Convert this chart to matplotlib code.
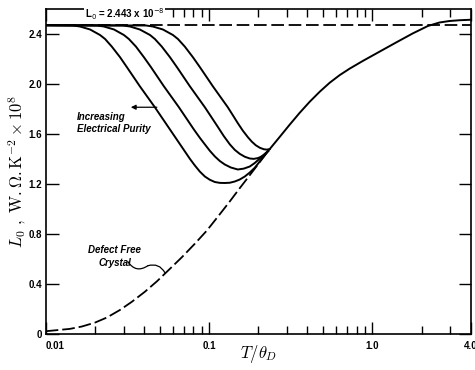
import numpy as np
import matplotlib
matplotlib.use('Agg')
import matplotlib.pyplot as plt
from matplotlib.ticker import LogLocator, NullFormatter

# values (x = T/theta_D, y = L0 x 1e8)
L0_level = 2.47

main_x = [0.0100, 0.01408, 0.01667, 0.02002, 0.02371, 0.02847, 0.03372, 0.04049, 0.04794,
          0.05757, 0.06818, 0.08186, 0.09694, 0.1164, 0.1341, 0.1543, 0.1728, 0.1906, 0.2298,
          0.2710, 0.3120, 0.3593, 0.4135, 0.4761, 0.5480, 0.6310, 0.7264, 0.8760,
          1.108, 1.402, 1.764, 2.188, 2.580, 2.971, 3.419, 4.0]
main_y = [0.022, 0.041, 0.060, 0.091, 0.132, 0.192, 0.258, 0.338, 0.421,
          0.521, 0.614, 0.722, 0.827, 0.958, 1.061, 1.167, 1.250, 1.323, 1.463,
          1.577, 1.675, 1.770, 1.858, 1.938, 2.010, 2.071, 2.123, 2.185,
          2.259, 2.333, 2.404, 2.464, 2.492, 2.504, 2.510, 2.514]
n_dashed = 19  # defect free part drawn dashed up to x ~ 0.23

c1_x = [0.010, 0.0147, 0.0162, 0.0187, 0.0215, 0.0231, 0.0254, 0.0285, 0.0314, 0.0377, 0.0466,
        0.0576, 0.0711, 0.0763, 0.0819, 0.0879, 0.0943, 0.1011, 0.1085, 0.1164, 0.1249,
        0.1341, 0.1438, 0.1543, 0.1656, 0.1777, 0.1906, 0.2298]
c1_y = [2.47, 2.468, 2.460, 2.436, 2.392, 2.360, 2.299, 2.215, 2.135, 1.982, 1.814,
        1.637, 1.461, 1.402, 1.348, 1.299, 1.260, 1.234, 1.216, 1.209, 1.208,
        1.210, 1.220, 1.236, 1.260, 1.292, 1.330, 1.463]

c2_x = [0.010, 0.0206, 0.0227, 0.0262, 0.0301, 0.0323, 0.0357, 0.0399, 0.0441, 0.0529,
        0.0654, 0.0807, 0.0879, 0.0943, 0.1011, 0.1085, 0.1164, 0.1249, 0.1360, 0.1500,
        0.1632, 0.1777, 0.1906, 0.2046, 0.2298]
c2_y = [2.47, 2.468, 2.460, 2.436, 2.392, 2.360, 2.299, 2.215, 2.135, 1.982,
        1.814, 1.637, 1.569, 1.517, 1.466, 1.421, 1.384, 1.356, 1.332, 1.316,
        1.323, 1.340, 1.368, 1.404, 1.463]

c3_x = [0.010, 0.0297, 0.0328, 0.0377, 0.0435, 0.0466, 0.0514, 0.0576, 0.0636, 0.0763,
        0.0943, 0.1040, 0.1132, 0.1232, 0.1341, 0.1438, 0.1543, 0.1656, 0.1777, 0.1879,
        0.1989, 0.2074, 0.2164, 0.2298]
c3_y = [2.47, 2.468, 2.460, 2.436, 2.392, 2.360, 2.299, 2.215, 2.135, 1.982,
        1.814, 1.730, 1.657, 1.583, 1.517, 1.473, 1.441, 1.418, 1.404, 1.401,
        1.407, 1.417, 1.433, 1.463]

c4_x = [0.010, 0.0411, 0.0453, 0.0522, 0.0601, 0.0645, 0.0711, 0.0796, 0.0879, 0.1055,
        0.1303, 0.1398, 0.1500, 0.1610, 0.1728, 0.1827, 0.1933, 0.2046, 0.2164, 0.2257, 0.2354]
c4_y = [2.47, 2.468, 2.460, 2.436, 2.392, 2.360, 2.299, 2.215, 2.135, 1.982,
        1.814, 1.751, 1.687, 1.627, 1.575, 1.539, 1.510, 1.490, 1.478, 1.475, 1.479]

xticks = [0.01, 0.1, 1.0, 4.0]
xtick_labels = ['0.01', '0.1', '1.0', '4.0']
yticks = [0, 0.4, 0.8, 1.2, 1.6, 2.0, 2.4]
ytick_labels = ['0', '0.4', '0.8', '1.2', '1.6', '2.0', '2.4']

plt.rcParams['font.family'] = ['Liberation Sans', 'DejaVu Sans']

fig = plt.figure(figsize=(4.75, 3.7), dpi=100)
ax = fig.add_axes([0.0962, 0.0973, 0.8947, 0.8784])

ax.axhline(L0_level, color='black', lw=1.3, ls=(0, (7, 2.6)))
ax.plot(main_x[:n_dashed], main_y[:n_dashed], color='black', lw=1.3, ls=(0, (7, 2.2)))
ax.plot(main_x[n_dashed - 1:], main_y[n_dashed - 1:], color='black', lw=1.4)
for cx, cy in [(c1_x, c1_y), (c2_x, c2_y), (c3_x, c3_y), (c4_x, c4_y)]:
    ax.plot(cx, cy, color='black', lw=1.4, solid_joinstyle='round')

ax.set_xscale('log')
ax.set_xlim(0.01, 4.0)
ax.set_ylim(0, 2.6)
ax.set_xticks(xticks)
ax.set_xticklabels(xtick_labels)
ax.xaxis.set_minor_locator(LogLocator(base=10, subs=range(2, 10)))
ax.xaxis.set_minor_formatter(NullFormatter())
ax.set_yticks(yticks)
ax.set_yticklabels(ytick_labels)
ax.yaxis.set_minor_locator(plt.NullLocator())

ax.tick_params(which='both', direction='in', top=True, right=True, width=1.0,
               labelsize=7)
ax.tick_params(axis='x', which='major', length=8.5, pad=5)
ax.tick_params(axis='x', which='minor', length=5.8)
ax.tick_params(axis='y', which='major', length=9, pad=2.5)
for lab in ax.get_xticklabels() + ax.get_yticklabels():
    lab.set_fontweight('bold')
ax.get_xticklabels()[0].set_ha('left')
for sp in ax.spines.values():
    sp.set_linewidth(1.2)

ax.set_xlabel(r'$T/\theta_D$', fontsize=12, math_fontfamily='cm')
ax.xaxis.set_label_coords(0.5, -0.027)
ax.set_ylabel(r'$L_0\ ,\ \mathrm{W.\Omega.K^{-2}} \times 10^8$', fontsize=12,
              math_fontfamily='cm')
ax.yaxis.set_label_coords(-0.041, 0.5)

# the reference label blanks out the top ticks behind it
ax.text(0.0174, 2.492, r'L$_0$ = 2.443 x 10$^{-8}$', fontsize=7, fontweight='bold',
        ha='left', va='bottom', math_fontfamily='dejavusans', zorder=5,
        bbox=dict(facecolor='white', edgecolor='none', pad=0.6))

ax.text(0.0155, 1.69, 'Increasing\nElectrical Purity', fontsize=7, fontweight='bold',
        style='italic', ha='left', va='center', linespacing=1.3)
ax.annotate('', xy=(0.0332, 1.814), xytext=(0.0479, 1.814),
            arrowprops=dict(arrowstyle='-|>', color='black', lw=0.9,
                            mutation_scale=7, shrinkA=0, shrinkB=0))

ax.text(0.0265, 0.62, 'Defect Free\nCrystal', fontsize=7, fontweight='bold',
        style='italic', ha='center', va='center', linespacing=1.3)
ax.annotate('', xy=(0.0422, 0.546), xytext=(0.0319, 0.578),
            arrowprops=dict(arrowstyle='-', color='black', lw=0.9,
                            connectionstyle='arc3,rad=0.5', shrinkA=0, shrinkB=0))
ax.annotate('', xy=(0.0537, 0.49), xytext=(0.0422, 0.546),
            arrowprops=dict(arrowstyle='-', color='black', lw=0.9,
                            connectionstyle='arc3,rad=-0.4', shrinkA=0, shrinkB=0))

fig.savefig('out.png', dpi=100)
